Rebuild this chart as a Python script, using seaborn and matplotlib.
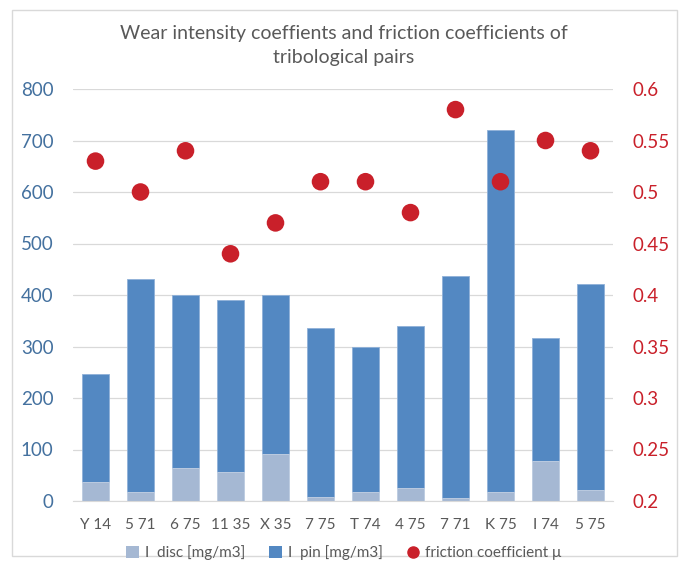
import numpy as np
import pandas as pd
import matplotlib
matplotlib.use("Agg")
import matplotlib.pyplot as plt
import seaborn as sns
from matplotlib.lines import Line2D
from matplotlib.patches import Patch, Rectangle

# data
pairs = ["Y 14", "5 71", "6 75", "11 35", "X 35", "7 75", "T 74", "4 75", "7 71", "K 75", "I 74", "5 75"]
i_disc = [37, 18, 65, 57, 91, 7, 17, 25, 5, 18, 77, 22]
i_total = [247, 431, 400, 390, 400, 335, 300, 340, 437, 720, 316, 421]
i_pin = [t - d for t, d in zip(i_total, i_disc)]
friction = [0.53, 0.50, 0.54, 0.44, 0.47, 0.51, 0.51, 0.48, 0.58, 0.51, 0.55, 0.54]

df = pd.DataFrame({"pair": pairs, "disc": i_disc, "pin": i_pin, "friction": friction})
df["total"] = df["disc"] + df["pin"]

disc_col = "#A5B8D3"
pin_col = "#5388C2"
red = "#C9202A"
grey_text = "#595959"
blue_text = "#44719F"

sns.set_style("white")
plt.rcParams["font.family"] = ["Lato", "DejaVu Sans"]

fig = plt.figure(figsize=(6.88, 5.67), dpi=100)
ax = fig.add_axes([73 / 688, 1 - 501 / 567, (613 - 73) / 688, (501 - 89) / 567])

# stacked bars: full height in pin colour, disc part drawn over it
sns.barplot(data=df, x="pair", y="total", color=pin_col, width=0.58, ax=ax,
            saturation=1, edgecolor="#8FB0D8", linewidth=0.6)
sns.barplot(data=df, x="pair", y="disc", color=disc_col, width=0.58, ax=ax,
            saturation=1, edgecolor="#C5D2E4", linewidth=0.6)

ax.set_ylim(0, 800)
ax.set_yticks(range(0, 801, 100))
ax.set_xlim(-0.5, len(pairs) - 0.5)
ax.yaxis.grid(True, color="#D9D9D9", linewidth=0.9)
ax.set_axisbelow(True)
ax.set_xlabel("")
ax.set_ylabel("")
for s in ax.spines.values():
    s.set_visible(False)
ax.spines["bottom"].set_visible(True)
ax.spines["bottom"].set_color("#D9D9D9")
ax.tick_params(axis="y", length=0, pad=14, labelsize=13.5, labelcolor=blue_text)
ax.tick_params(axis="x", length=0, pad=12, labelsize=11, labelcolor=grey_text)

ax2 = ax.twinx()
sns.scatterplot(x=np.arange(len(pairs)), y=df["friction"], ax=ax2, color=red,
                s=160, edgecolor="none", legend=False)
ax2.set_ylim(0.2, 0.6)
ax2.set_yticks(np.arange(0.2, 0.601, 0.05))
ax2.set_yticklabels(["0.2", "0.25", "0.3", "0.35", "0.4", "0.45", "0.5", "0.55", "0.6"])
ax2.set_xlim(-0.5, len(pairs) - 0.5)
ax2.set_ylabel("")
for s in ax2.spines.values():
    s.set_visible(False)
ax2.tick_params(axis="y", length=0, pad=14, labelsize=13.5, labelcolor=red)

fig.text(0.5, 1 - 45 / 567, "Wear intensity coeffients and friction coefficients of\ntribological pairs",
         ha="center", va="center", fontsize=14, color=grey_text, linespacing=1.5)

handles = [Patch(facecolor=disc_col, edgecolor="none"),
           Patch(facecolor=pin_col, edgecolor="none"),
           Line2D([], [], marker="o", linestyle="none", color=red, markersize=8)]
labels = ["I  disc [mg/m3]", "I  pin [mg/m3]", "friction coefficient \u03bc"]
fig.legend(handles, labels, loc="center", bbox_to_anchor=(0.5, 1 - 553 / 567), ncol=3,
           frameon=False, fontsize=11, labelcolor=grey_text, handlelength=0.8,
           handleheight=0.8, handletextpad=0.4, columnspacing=1.6)

# light frame around the chart
fig.patches.append(Rectangle((12 / 688, 1 - 556 / 567), (677 - 12) / 688, (556 - 10) / 567,
                             transform=fig.transFigure, fill=False, edgecolor="#D9D9D9",
                             linewidth=1))

fig.savefig("out.png", dpi=100)
